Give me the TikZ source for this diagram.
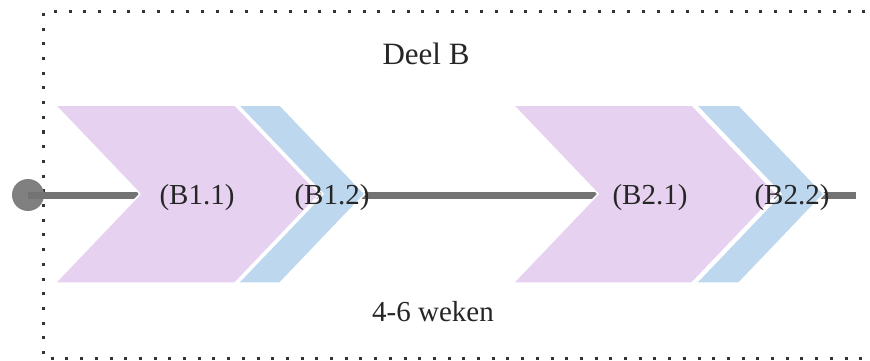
\documentclass[tikz,border=0pt]{standalone}
\usepackage{fontspec}
\setmainfont{Liberation Serif}
\definecolor{chpurple}{HTML}{E6D2F0}
\definecolor{chblue}{HTML}{BDD7EE}
\definecolor{linegray}{HTML}{737373}
\definecolor{dotgray}{HTML}{333333}
\begin{document}
\begin{tikzpicture}[x=1pt,y=-1pt,
  lbl/.style={inner sep=0pt,font=\fontsize{29}{32}\selectfont,text=black!85},
  chevp/.style={fill=chpurple,draw=white,line width=1.5pt},
  chevb/.style={fill=chblue,draw=white,line width=1.5pt},
  axis/.style={draw=linegray,line width=7pt},
  frame/.style={draw=dotgray,line width=3pt,dash pattern=on 3pt off 11.7pt}]
\useasboundingbox (0,0) rectangle (870,361);
\fill[white] (0,0) rectangle (870,361);
% frame
\draw[frame] (880,12) -- (43,12) -- (43,358) -- (880,358);
% axis
\node[circle,fill=gray,minimum size=32pt,inner sep=0pt] (start) at (28,195) {};
\coordinate (stop) at (856,195);
\draw[axis] (start.center) -- (stop);
% chevron 1
\draw[chevp] (55,105) -- (235,105) -- (320,194) -- (235,283) -- (55,283) -- (140,194) -- cycle;
\draw[chevb] (238,105) -- (280,105) -- (365,194) -- (280,283) -- (238,283) -- (323,194) -- cycle;
% chevron 2
\draw[chevp] (513,105) -- (692,105) -- (777,194) -- (692,283) -- (513,283) -- (598,194) -- cycle;
\draw[chevb] (696,105) -- (739,105) -- (824,194) -- (739,283) -- (696,283) -- (781,194) -- cycle;
% labels
\node[lbl] (b11) at (197,198) {(B1.1)};
\node[lbl] (b12) at (332,198) {(B1.2)};
\node[lbl] (b21) at (650,198) {(B2.1)};
\node[lbl] (b22) at (792,198) {(B2.2)};
\node[lbl,font=\fontsize{31}{34}\selectfont] (title) at (426,54) {Deel B};
\node[lbl] (dur) at (433,312) {4-6 weken};
\end{tikzpicture}
\end{document}
